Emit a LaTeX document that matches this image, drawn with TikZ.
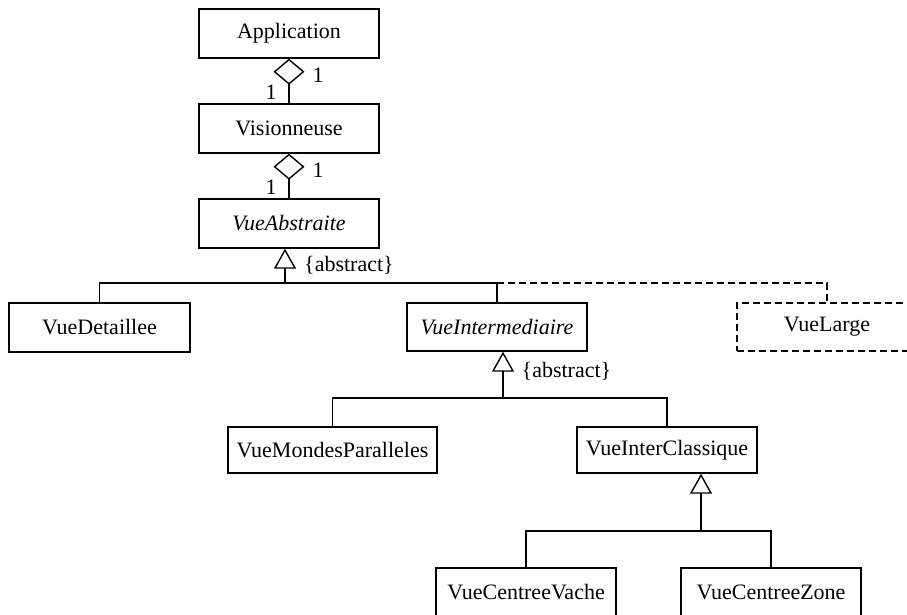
\documentclass[tikz,border=0pt]{standalone}
\usepackage{fontspec}
\setmainfont{Liberation Serif}
\usetikzlibrary{arrows.meta}
\begin{document}
\begin{tikzpicture}[x=1pt,y=-1pt,
  every node/.style={font=\fontsize{22}{26}\selectfont},
  cls/.style={draw, line width=1.4pt, minimum width=180pt, minimum height=49pt, inner sep=0pt},
  dashedcls/.style={cls, dash pattern=on 7pt off 4pt},
  link/.style={line width=1.4pt},
  aggr/.style={link, -{Diamond[open,length=26pt,width=31pt]}},
  inherit/.style={link, -{Triangle[open,length=20pt,width=22pt]}},
  mult/.style={inner sep=0pt}
]
\useasboundingbox (0,0) rectangle (907,614);
\clip (0,0) rectangle (907,614);
\fill[white] (0,0) rectangle (907,614);

% classes
\node[cls] (app) at (289,33.5) {Application};
\node[cls] (vis) at (289,128.5) {Visionneuse};
\node[cls] (abs) at (289,223.5) {\itshape VueAbstraite};
\node[cls, minimum width=181pt] (det) at (99.5,327.5) {VueDetaillee};
\node[cls, minimum height=48pt] (inter) at (497,327) {\itshape VueIntermediaire};
\node[dashedcls, minimum height=48pt] (large) at (827,327) {VueLarge};
\node[cls, minimum width=209pt, minimum height=46pt] (mondes) at (332.5,450) {VueMondesParalleles};
\node[cls, minimum height=46pt] (classique) at (667,450) {VueInterClassique};
% the two lowest classes run past the lower edge
\node[cls, minimum height=56pt] (vache) at (526,596) {};
\node[cls, minimum height=56pt] (zone) at (771,596) {};
\node (vachetext) at (526,592) {VueCentreeVache};
\node (zonetext) at (771,592) {VueCentreeZone};

% aggregations with multiplicities
\draw[aggr] (vis.north) -- (app.south);
\node[mult] (m1) at (318,75) {1};
\node[mult] (m2) at (271,92) {1};
\draw[aggr] (abs.north) -- (vis.south);
\node[mult] (m3) at (318,170) {1};
\node[mult] (m4) at (271,187) {1};

% generalisation of VueAbstraite
\coordinate (h1) at (285,283);
\draw[inherit] (h1) -- (abs.south -| h1);
\draw[link] (det.north) |- (h1) -| (inter.north);
\draw[link, dash pattern=on 7pt off 4pt] (inter.north |- h1) -| (large.north);
\node[mult] (c1) at (349,265) {\{abstract\}};

% generalisation of VueIntermediaire
\coordinate (h2) at (503,398);
\draw[inherit] (h2) -- (inter.south -| h2);
\draw[link] (mondes.north) |- (h2) -| (classique.north);
\node[mult] (c2) at (566.5,371) {\{abstract\}};

% generalisation of VueInterClassique
\coordinate (h3) at (701,531);
\draw[inherit] (h3) -- (classique.south -| h3);
\draw[link] (vache.north) |- (h3) -| (zone.north);
\end{tikzpicture}
\end{document}
